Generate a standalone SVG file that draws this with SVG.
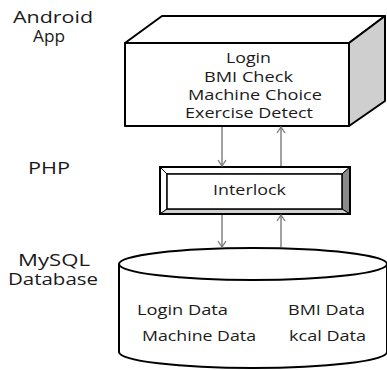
<svg xmlns="http://www.w3.org/2000/svg" width="387" height="370" viewBox="0 0 387 370">
<style>
.t{font-family:"Open Sans","DejaVu Sans",sans-serif;fill:#1a1a1a;}
.lbl{font-size:16.5px;}
.in{font-size:14px;}
.ln{stroke:#000;stroke-width:2;stroke-linejoin:round;}
.ar{stroke:#7a7a7a;stroke-width:1.4;fill:none;}
</style>
<defs>
<marker id="ah" markerWidth="10" markerHeight="10" refX="8" refY="5" orient="auto" markerUnits="userSpaceOnUse">
<path d="M2,1 L8,5 L2,9" fill="none" stroke="#7a7a7a" stroke-width="1.3"/>
</marker>
</defs>
<rect width="387" height="370" fill="#fff"/>
<text class="t lbl" x="13" y="23" textLength="80" lengthAdjust="spacingAndGlyphs">Android</text>
<text class="t lbl" x="33" y="42" textLength="32" lengthAdjust="spacingAndGlyphs">App</text>
<text class="t lbl" x="28" y="174" textLength="42" lengthAdjust="spacingAndGlyphs">PHP</text>
<text class="t lbl" x="18" y="266" textLength="72" lengthAdjust="spacingAndGlyphs">MySQL</text>
<text class="t lbl" x="8" y="285" textLength="90" lengthAdjust="spacingAndGlyphs">Database</text>
<g id="app">
<polygon class="ln" points="125,43 162,16 385,16 349,43" fill="#fff"/>
<polygon class="ln" points="349,43 385,16 385,101 349,126" fill="#cfcfcf"/>
<rect class="ln" x="125" y="43" width="224" height="83" fill="#fff"/>
<text class="t in" x="226" y="63" textLength="45" lengthAdjust="spacingAndGlyphs">Login</text>
<text class="t in" x="204" y="82" textLength="89" lengthAdjust="spacingAndGlyphs">BMI Check</text>
<text class="t in" x="188" y="100" textLength="134" lengthAdjust="spacingAndGlyphs">Machine Choice</text>
<text class="t in" x="185" y="118" textLength="128" lengthAdjust="spacingAndGlyphs">Exercise Detect</text>
</g>
<g id="php">
<polygon points="160,167 350,167 342,174 167,174" fill="#fff" stroke="#000" stroke-width="1"/>
<polygon points="160,167 167,174 167,209 160,214" fill="#fff" stroke="#000" stroke-width="1"/>
<polygon points="350,167 350,214 342,209 342,174" fill="#8a8a8a" stroke="#000" stroke-width="1"/>
<polygon points="160,214 167,209 342,209 350,214" fill="#d0d0d0" stroke="#000" stroke-width="1"/>
<rect x="160" y="167" width="190" height="47" fill="none" stroke="#000" stroke-width="2"/>
<rect x="167" y="174" width="175" height="35" fill="#fff" stroke="#000" stroke-width="1.5"/>
<text class="t in" x="213" y="195" textLength="73" lengthAdjust="spacingAndGlyphs">Interlock</text>
</g>
<g id="db">
<path class="ln" d="M119,264 L119,352 A134,16 0 0 0 387,352 L387,264" fill="#fff"/>
<ellipse class="ln" cx="253" cy="264" rx="134" ry="16" fill="#fff"/>
<text class="t in" x="137" y="315" textLength="91" lengthAdjust="spacingAndGlyphs">Login Data</text>
<text class="t in" x="288" y="315" textLength="77" lengthAdjust="spacingAndGlyphs">BMI Data</text>
<text class="t in" x="142" y="341" textLength="114" lengthAdjust="spacingAndGlyphs">Machine Data</text>
<text class="t in" x="289" y="341" textLength="77" lengthAdjust="spacingAndGlyphs">kcal  Data</text>
</g>
<g id="connectors">
<line class="ar" x1="222" y1="127" x2="222" y2="166" marker-end="url(#ah)"/>
<line class="ar" x1="281" y1="166" x2="281" y2="127" marker-end="url(#ah)"/>
<line class="ar" x1="222" y1="215" x2="222" y2="247" marker-end="url(#ah)"/>
<line class="ar" x1="281" y1="247" x2="281" y2="215" marker-end="url(#ah)"/>
</g>
</svg>
